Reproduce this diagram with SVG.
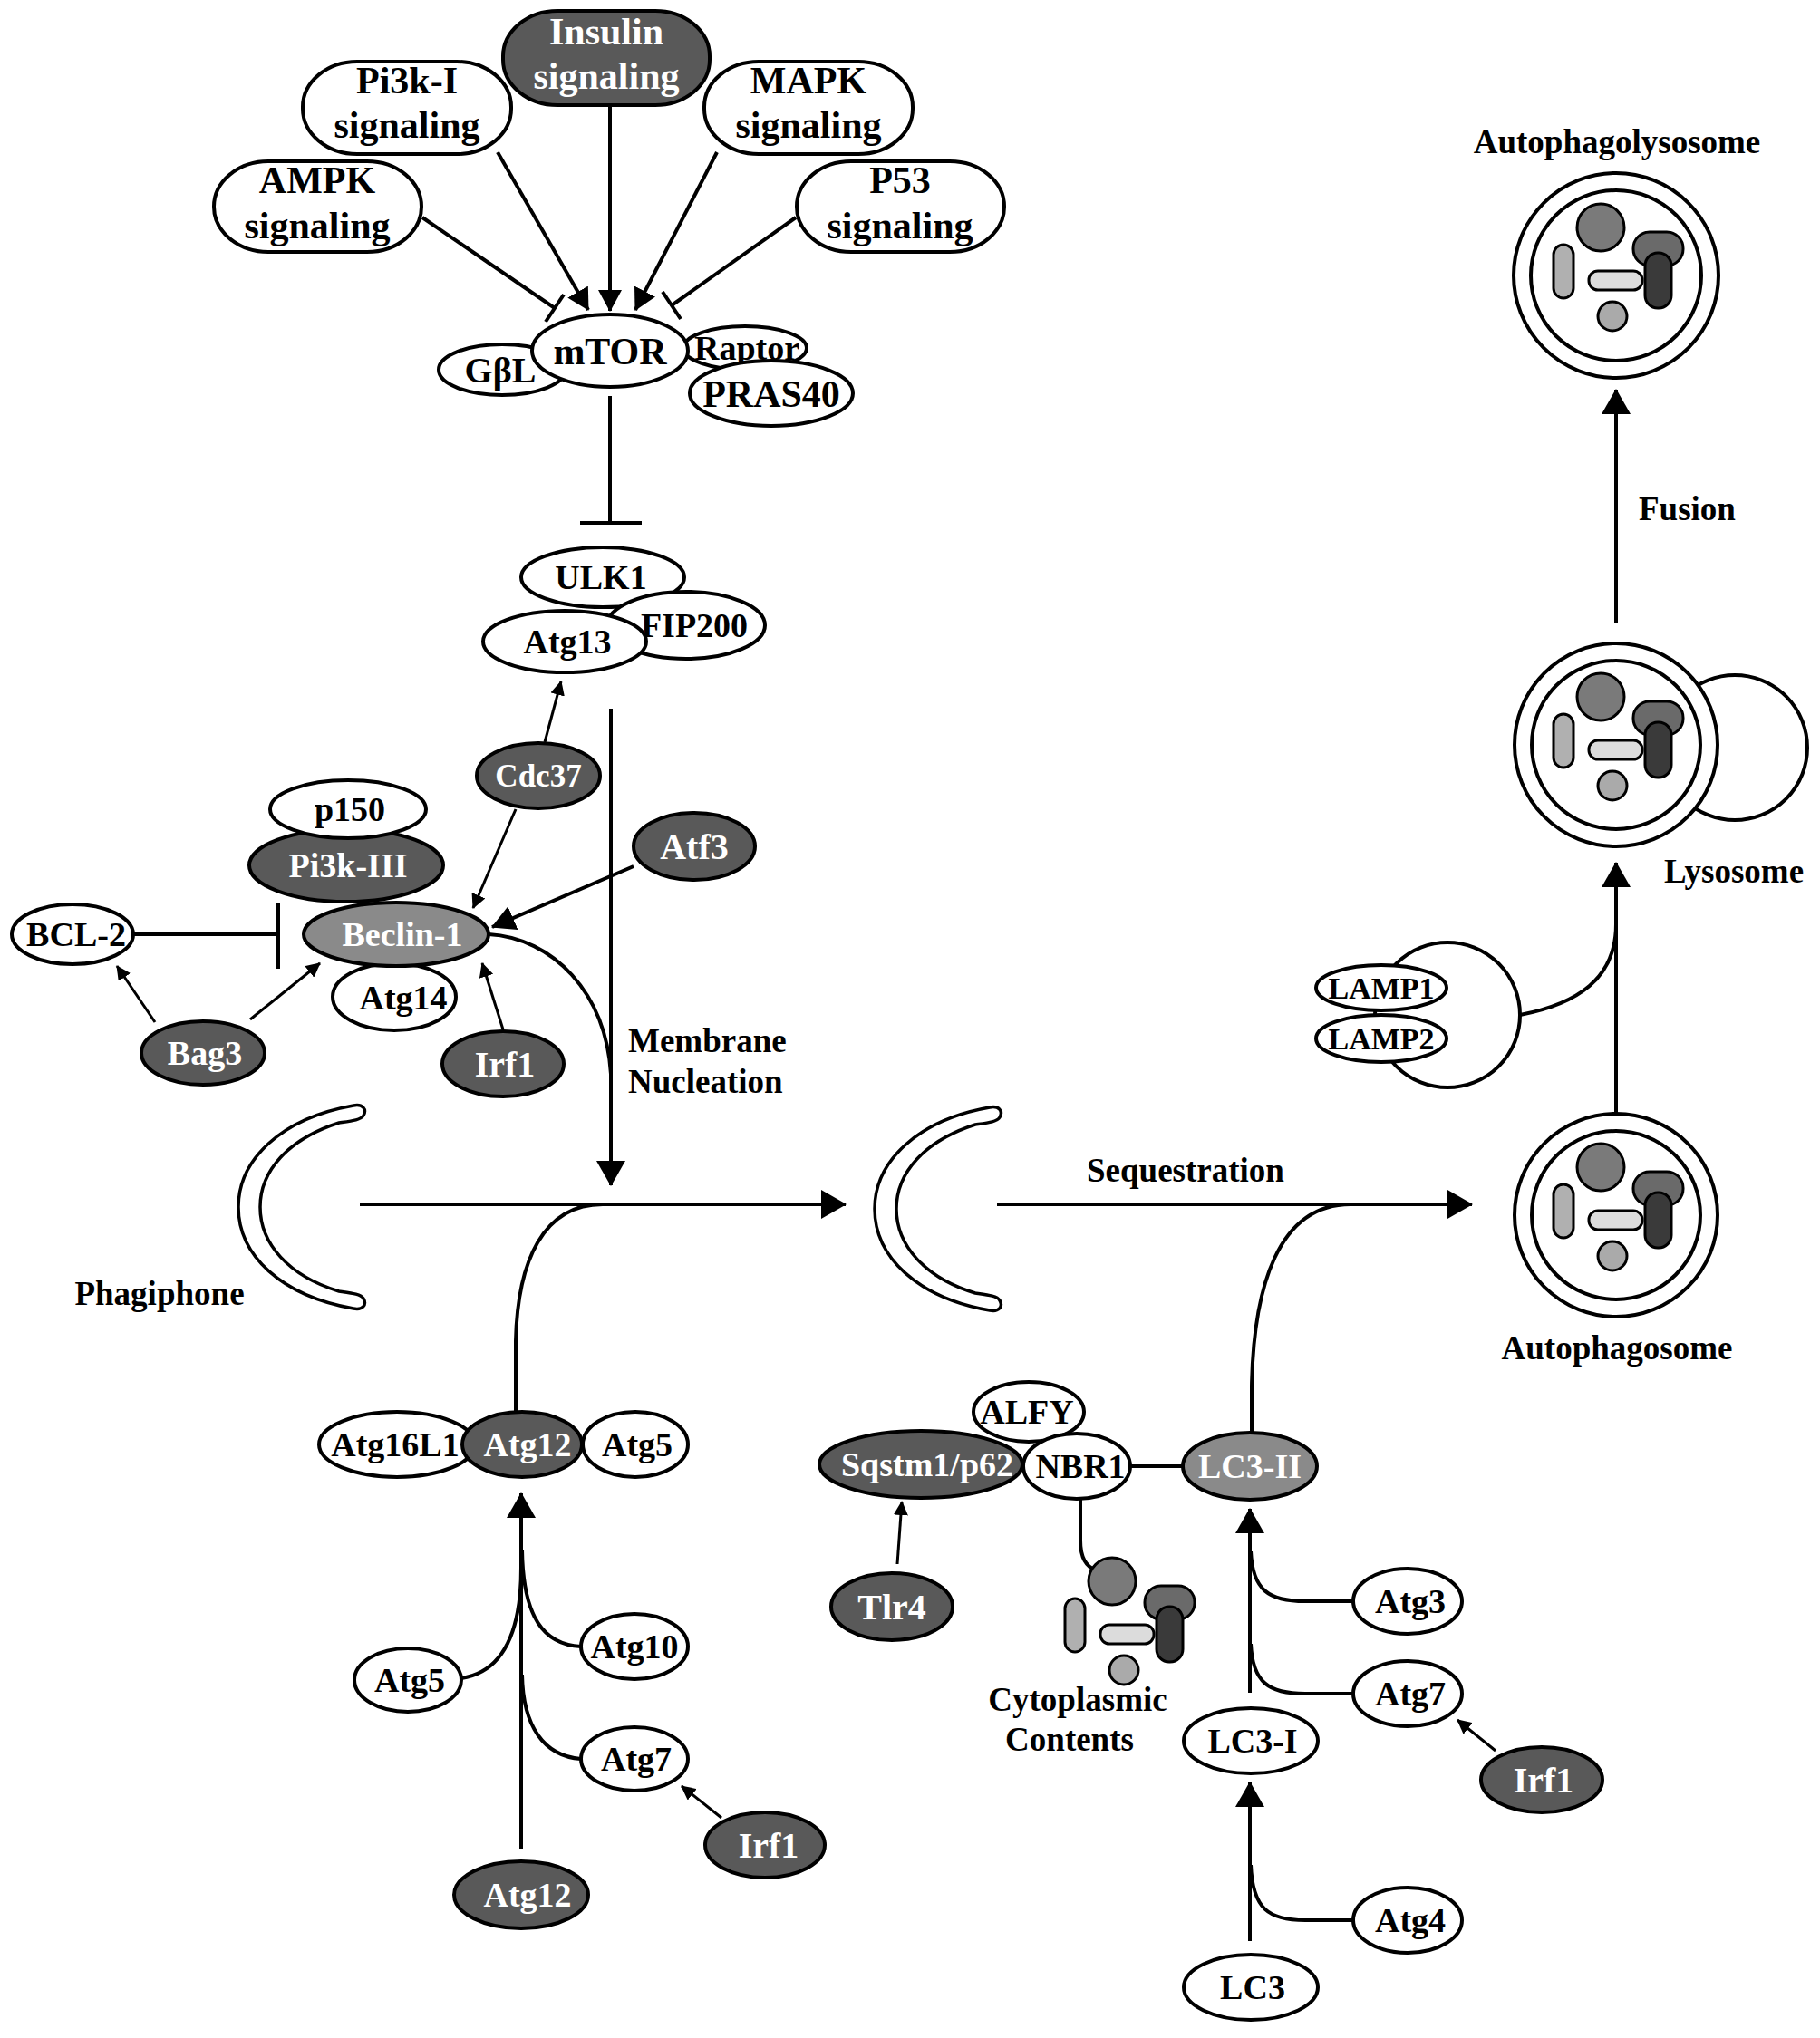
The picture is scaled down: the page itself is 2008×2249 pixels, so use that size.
<svg xmlns="http://www.w3.org/2000/svg" xmlns:xlink="http://www.w3.org/1999/xlink" width="2008" height="2249" viewBox="0 0 2008 2249">
<style>
.n{stroke:#000;stroke-width:4;fill:#fff}
.d{fill:#595959}
.m{fill:#8a8a8a}
text{font-family:"Liberation Serif","Times New Roman",serif;font-weight:bold;font-size:38px;text-anchor:middle;fill:#000}
text.w{fill:#fff}
text.big{font-size:42px}
text.lab{font-size:37px}
text.l{text-anchor:start}
.c path,.c line{stroke:#000;stroke-width:4;fill:none}
.c .th{stroke-width:3}
.ct{stroke:#000;stroke-width:3}
.ring{fill:#fff;stroke:#000;stroke-width:4}
</style>
<defs>
<marker id="ab" viewBox="0 0 28 32" refX="27" refY="16" markerWidth="28" markerHeight="32" orient="auto" markerUnits="userSpaceOnUse"><path d="M0,0L28,16L0,32z" fill="#000"/></marker>
<marker id="am" viewBox="0 0 24 26" refX="23" refY="13" markerWidth="24" markerHeight="26" orient="auto" markerUnits="userSpaceOnUse"><path d="M0,0L24,13L0,26z" fill="#000"/></marker>
<marker id="as" viewBox="0 0 16 16" refX="15" refY="8" markerWidth="16" markerHeight="16" orient="auto" markerUnits="userSpaceOnUse"><path d="M0,0L16,8L0,16z" fill="#000"/></marker>
<marker id="aa" viewBox="0 0 26 28" refX="25" refY="14" markerWidth="26" markerHeight="28" orient="auto" markerUnits="userSpaceOnUse"><path d="M0,0L26,14L0,28z" fill="#000"/></marker>
<g id="contents">
<circle class="ct" cx="-17" cy="-53" r="26" fill="#7a7a7a"/>
<rect class="ct" x="19" y="-48" width="55" height="37" rx="18" fill="#6a6a6a"/>
<rect class="ct" x="32" y="-25" width="29" height="61" rx="14" fill="#3a3a3a"/>
<rect class="ct" x="-69" y="-34" width="22" height="59" rx="11" fill="#b0b0b0"/>
<rect class="ct" x="-30" y="-5" width="59" height="21" rx="10" fill="#dcdcdc"/>
<circle class="ct" cx="-4" cy="45" r="16" fill="#aaaaaa"/>
</g>
<path id="phag" d="M390,1220 C400,1218 405,1224 401,1231 C398,1236 388,1237 374,1239 C318,1257 287,1292 287,1332 C287,1372 318,1408 374,1425 C388,1427 398,1428 401,1433 C405,1440 400,1446 390,1444 C310,1430 263,1385 263,1332 C263,1280 310,1234 390,1220 Z" fill="#fff" stroke="#000" stroke-width="3.5"/>
</defs>
<rect width="2008" height="2249" fill="#fff"/>

<g class="c" id="connectors">
<line x1="673" y1="116" x2="673" y2="343" marker-end="url(#am)"/>
<line x1="549" y1="168" x2="649" y2="342" marker-end="url(#am)"/>
<line x1="791" y1="168" x2="701" y2="342" marker-end="url(#am)"/>
<line x1="466" y1="240" x2="612" y2="340"/>
<line x1="602" y1="355" x2="622" y2="325"/>
<line x1="878" y1="240" x2="741" y2="337"/>
<line x1="731" y1="322" x2="751" y2="352"/>
<line x1="673" y1="437" x2="673" y2="577"/>
<line x1="640" y1="577" x2="708" y2="577"/>
<line class="th" x1="601" y1="819" x2="619" y2="752" marker-end="url(#as)"/>
<line class="th" x1="569" y1="893" x2="522" y2="1002" marker-end="url(#as)"/>
<line x1="699" y1="956" x2="543" y2="1023" marker-end="url(#aa)"/>
<line x1="147" y1="1031" x2="307" y2="1031"/>
<line x1="307" y1="997" x2="307" y2="1069"/>
<line class="th" x1="171" y1="1128" x2="129" y2="1066" marker-end="url(#as)"/>
<line class="th" x1="276" y1="1125" x2="353" y2="1063" marker-end="url(#as)"/>
<line class="th" x1="555" y1="1136" x2="532" y2="1063" marker-end="url(#as)"/>
<line x1="674" y1="782" x2="674" y2="1308" marker-end="url(#ab)"/>
<path d="M539,1031 C610,1035 668,1095 674,1185"/>
<line x1="397" y1="1329" x2="933" y2="1329" marker-end="url(#ab)"/>
<path d="M569,1560 L569,1480 C571,1390 600,1329 665,1329"/>
<line x1="1100" y1="1329" x2="1624" y2="1329" marker-end="url(#ab)"/>
<path d="M1381,1582 L1381,1530 C1383,1420 1410,1329 1490,1329"/>
<line x1="575" y1="2040" x2="575" y2="1648" marker-end="url(#ab)"/>
<path d="M509,1852 C555,1845 575,1800 575,1730"/>
<path d="M641,1817 C600,1815 577,1785 576,1710"/>
<path d="M641,1941 C600,1938 577,1905 576,1848"/>
<line class="th" x1="796" y1="2006" x2="752" y2="1971" marker-end="url(#as)"/>
<line x1="1247" y1="1618" x2="1305" y2="1618"/>
<line class="th" x1="990" y1="1726" x2="995" y2="1657" marker-end="url(#as)"/>
<path d="M1192,1654 L1192,1700 C1192,1722 1200,1730 1210,1733"/>
<line x1="1379" y1="1868" x2="1379" y2="1665" marker-end="url(#ab)"/>
<path d="M1380,1712 C1382,1755 1400,1767 1440,1767 L1492,1767"/>
<path d="M1380,1814 C1382,1857 1400,1869 1440,1869 L1492,1869"/>
<line x1="1379" y1="2142" x2="1379" y2="1967" marker-end="url(#ab)"/>
<path d="M1380,2058 C1382,2107 1400,2119 1440,2119 L1492,2119"/>
<line class="th" x1="1650" y1="1932" x2="1608" y2="1898" marker-end="url(#as)"/>
<line x1="1783" y1="1229" x2="1783" y2="952" marker-end="url(#ab)"/>
<path d="M1677,1120 C1740,1108 1783,1080 1783,1020"/>
<line x1="1783" y1="688" x2="1783" y2="430" marker-end="url(#ab)"/>
</g>

<g id="insulin"><rect class="n d" x="555" y="12" width="228" height="104" rx="60" ry="50"/><text class="big w" x="669" y="49">Insulin</text><text class="big w" x="669" y="98">signaling</text></g>
<g id="pi3k1"><rect class="n" x="334" y="68" width="230" height="102" rx="60" ry="50"/><text class="big" x="449" y="103">Pi3k-I</text><text class="big" x="449" y="152">signaling</text></g>
<g id="mapk"><rect class="n" x="777" y="68" width="230" height="102" rx="60" ry="50"/><text class="big" x="892" y="103">MAPK</text><text class="big" x="892" y="152">signaling</text></g>
<g id="ampk"><rect class="n" x="236" y="178" width="229" height="100" rx="60" ry="50"/><text class="big" x="350" y="213">AMPK</text><text class="big" x="350" y="263">signaling</text></g>
<g id="p53"><rect class="n" x="879" y="178" width="229" height="100" rx="60" ry="50"/><text class="big" x="993" y="213">P53</text><text class="big" x="993" y="263">signaling</text></g>

<g id="gbl"><ellipse class="n" cx="554" cy="408" rx="70" ry="28"/><text x="552" y="422" style="font-size:40px">GβL</text></g>
<g id="raptor"><ellipse class="n" cx="822" cy="384" rx="68" ry="24"/><text x="824" y="397" style="font-size:38px">Raptor</text></g>
<g id="mtor"><ellipse class="n" cx="673" cy="387" rx="86" ry="40"/><text class="big" x="673" y="402">mTOR</text></g>
<g id="pras40"><ellipse class="n" cx="851" cy="434" rx="90" ry="36"/><text class="big" x="851" y="449">PRAS40</text></g>

<g id="ulk1"><ellipse class="n" cx="665" cy="637" rx="90" ry="33"/><text x="663" y="650">ULK1</text></g>
<g id="fip200"><ellipse class="n" cx="757" cy="690" rx="87" ry="37"/><text x="766" y="703">FIP200</text></g>
<g id="atg13"><ellipse class="n" cx="623" cy="708" rx="90" ry="34"/><text x="626" y="721">Atg13</text></g>

<g id="cdc37"><ellipse class="n d" cx="594" cy="856" rx="68" ry="36"/><text class="w" x="594" y="868" style="font-size:35px">Cdc37</text></g>
<g id="atf3"><ellipse class="n d" cx="766" cy="934" rx="67" ry="37"/><text class="w" x="766" y="948" style="font-size:40px">Atf3</text></g>
<g id="pi3k3"><ellipse class="n d" cx="382" cy="955" rx="107" ry="40"/><text class="w" x="384" y="968">Pi3k-III</text></g>
<g id="p150"><ellipse class="n" cx="384" cy="893" rx="86" ry="32"/><text x="386" y="906">p150</text></g>
<g id="atg14"><ellipse class="n" cx="435" cy="1100" rx="68" ry="37"/><text x="445" y="1114">Atg14</text></g>
<g id="beclin1"><ellipse class="n m" cx="437" cy="1031" rx="102" ry="35"/><text class="w" x="444" y="1044">Beclin-1</text></g>
<g id="bcl2"><ellipse class="n" cx="80" cy="1031" rx="67" ry="33"/><text x="84" y="1044">BCL-2</text></g>
<g id="bag3"><ellipse class="n d" cx="224" cy="1162" rx="68" ry="35"/><text class="w" x="226" y="1175">Bag3</text></g>
<g id="irf1a"><ellipse class="n d" cx="555" cy="1174" rx="67" ry="36"/><text class="w" x="557" y="1188" style="font-size:40px">Irf1</text></g>

<g id="membrane-label"><text class="lab l" x="693" y="1161">Membrane</text><text class="lab l" x="693" y="1206">Nucleation</text></g>

<g id="phagophore1"><use xlink:href="#phag" href="#phag"/><text class="lab" x="176" y="1440">Phagiphone</text></g>
<g id="phagophore2"><use xlink:href="#phag" href="#phag" transform="translate(702,2)"/></g>
<g id="sequestration-label"><text class="lab" x="1308" y="1304">Sequestration</text></g>

<g id="atg16l1"><ellipse class="n" cx="438" cy="1594" rx="86" ry="36"/><text x="436" y="1607">Atg16L1</text></g>
<g id="atg5a"><ellipse class="n" cx="701" cy="1594" rx="58" ry="36"/><text x="703" y="1607">Atg5</text></g>
<g id="atg12a"><ellipse class="n d" cx="576" cy="1594" rx="66" ry="36"/><text class="w" x="582" y="1607">Atg12</text></g>
<g id="atg5b"><ellipse class="n" cx="450" cy="1854" rx="59" ry="35"/><text x="452" y="1867">Atg5</text></g>
<g id="atg10"><ellipse class="n" cx="700" cy="1817" rx="59" ry="36"/><text x="700" y="1830">Atg10</text></g>
<g id="atg7a"><ellipse class="n" cx="700" cy="1941" rx="59" ry="35"/><text x="702" y="1954">Atg7</text></g>
<g id="irf1b"><ellipse class="n d" cx="844" cy="2036" rx="66" ry="36"/><text class="w" x="848" y="2050" style="font-size:40px">Irf1</text></g>
<g id="atg12b"><ellipse class="n d" cx="575" cy="2091" rx="74" ry="37"/><text class="w" x="582" y="2104">Atg12</text></g>

<g id="alfy"><ellipse class="n" cx="1135" cy="1558" rx="61" ry="33"/><text x="1133" y="1571">ALFY</text></g>
<g id="sqstm1"><ellipse class="n d" cx="1016" cy="1616" rx="112" ry="37"/><text class="w" x="1023" y="1629">Sqstm1/p62</text></g>
<g id="nbr1"><ellipse class="n" cx="1188" cy="1618" rx="59" ry="36"/><text x="1192" y="1631">NBR1</text></g>
<g id="lc3ii"><ellipse class="n m" cx="1379" cy="1618" rx="74" ry="37"/><text class="w" x="1379" y="1631">LC3-II</text></g>
<g id="tlr4"><ellipse class="n d" cx="984" cy="1773" rx="67" ry="37"/><text class="w" x="984" y="1787" style="font-size:40px">Tlr4</text></g>
<g id="cytoplasmic"><use xlink:href="#contents" href="#contents" transform="translate(1244,1798)"/><text class="lab" x="1189" y="1888">Cytoplasmic</text><text class="lab" x="1180" y="1932">Contents</text></g>

<g id="atg3"><ellipse class="n" cx="1553" cy="1767" rx="60" ry="36"/><text x="1556" y="1780">Atg3</text></g>
<g id="atg7b"><ellipse class="n" cx="1553" cy="1869" rx="60" ry="36"/><text x="1556" y="1882">Atg7</text></g>
<g id="lc3i"><ellipse class="n" cx="1380" cy="1921" rx="74" ry="36"/><text x="1382" y="1934">LC3-I</text></g>
<g id="atg4"><ellipse class="n" cx="1553" cy="2119" rx="60" ry="36"/><text x="1556" y="2132">Atg4</text></g>
<g id="lc3"><ellipse class="n" cx="1380" cy="2193" rx="74" ry="36"/><text x="1382" y="2206">LC3</text></g>
<g id="irf1c"><ellipse class="n d" cx="1701" cy="1964" rx="67" ry="36"/><text class="w" x="1703" y="1978" style="font-size:40px">Irf1</text></g>

<g id="autophagosome"><circle class="ring" cx="1783" cy="1341" r="112"/><circle class="ring" cx="1783" cy="1341" r="93"/><use xlink:href="#contents" href="#contents" transform="translate(1783,1341)"/><text class="lab" x="1784" y="1500">Autophagosome</text></g>
<g id="lamp"><circle class="ring" cx="1597" cy="1120" r="80"/><ellipse class="n" cx="1524" cy="1090" rx="72" ry="25"/><text x="1524" y="1102" style="font-size:34px">LAMP1</text><ellipse class="n" cx="1524" cy="1146" rx="72" ry="26"/><text x="1524" y="1158" style="font-size:34px">LAMP2</text></g>
<g id="lysosome"><circle class="ring" cx="1914" cy="825" r="80"/><circle class="ring" cx="1783" cy="822" r="112"/><circle class="ring" cx="1783" cy="822" r="93"/><use xlink:href="#contents" href="#contents" transform="translate(1783,822)"/><text class="lab" x="1913" y="974">Lysosome</text></g>
<g id="fusion-label"><text class="lab l" x="1808" y="574">Fusion</text></g>
<g id="autophagolysosome"><circle class="ring" cx="1783" cy="304" r="113"/><circle class="ring" cx="1783" cy="304" r="94"/><use xlink:href="#contents" href="#contents" transform="translate(1783,304)"/><text class="lab" x="1784" y="169">Autophagolysosome</text></g>
</svg>
